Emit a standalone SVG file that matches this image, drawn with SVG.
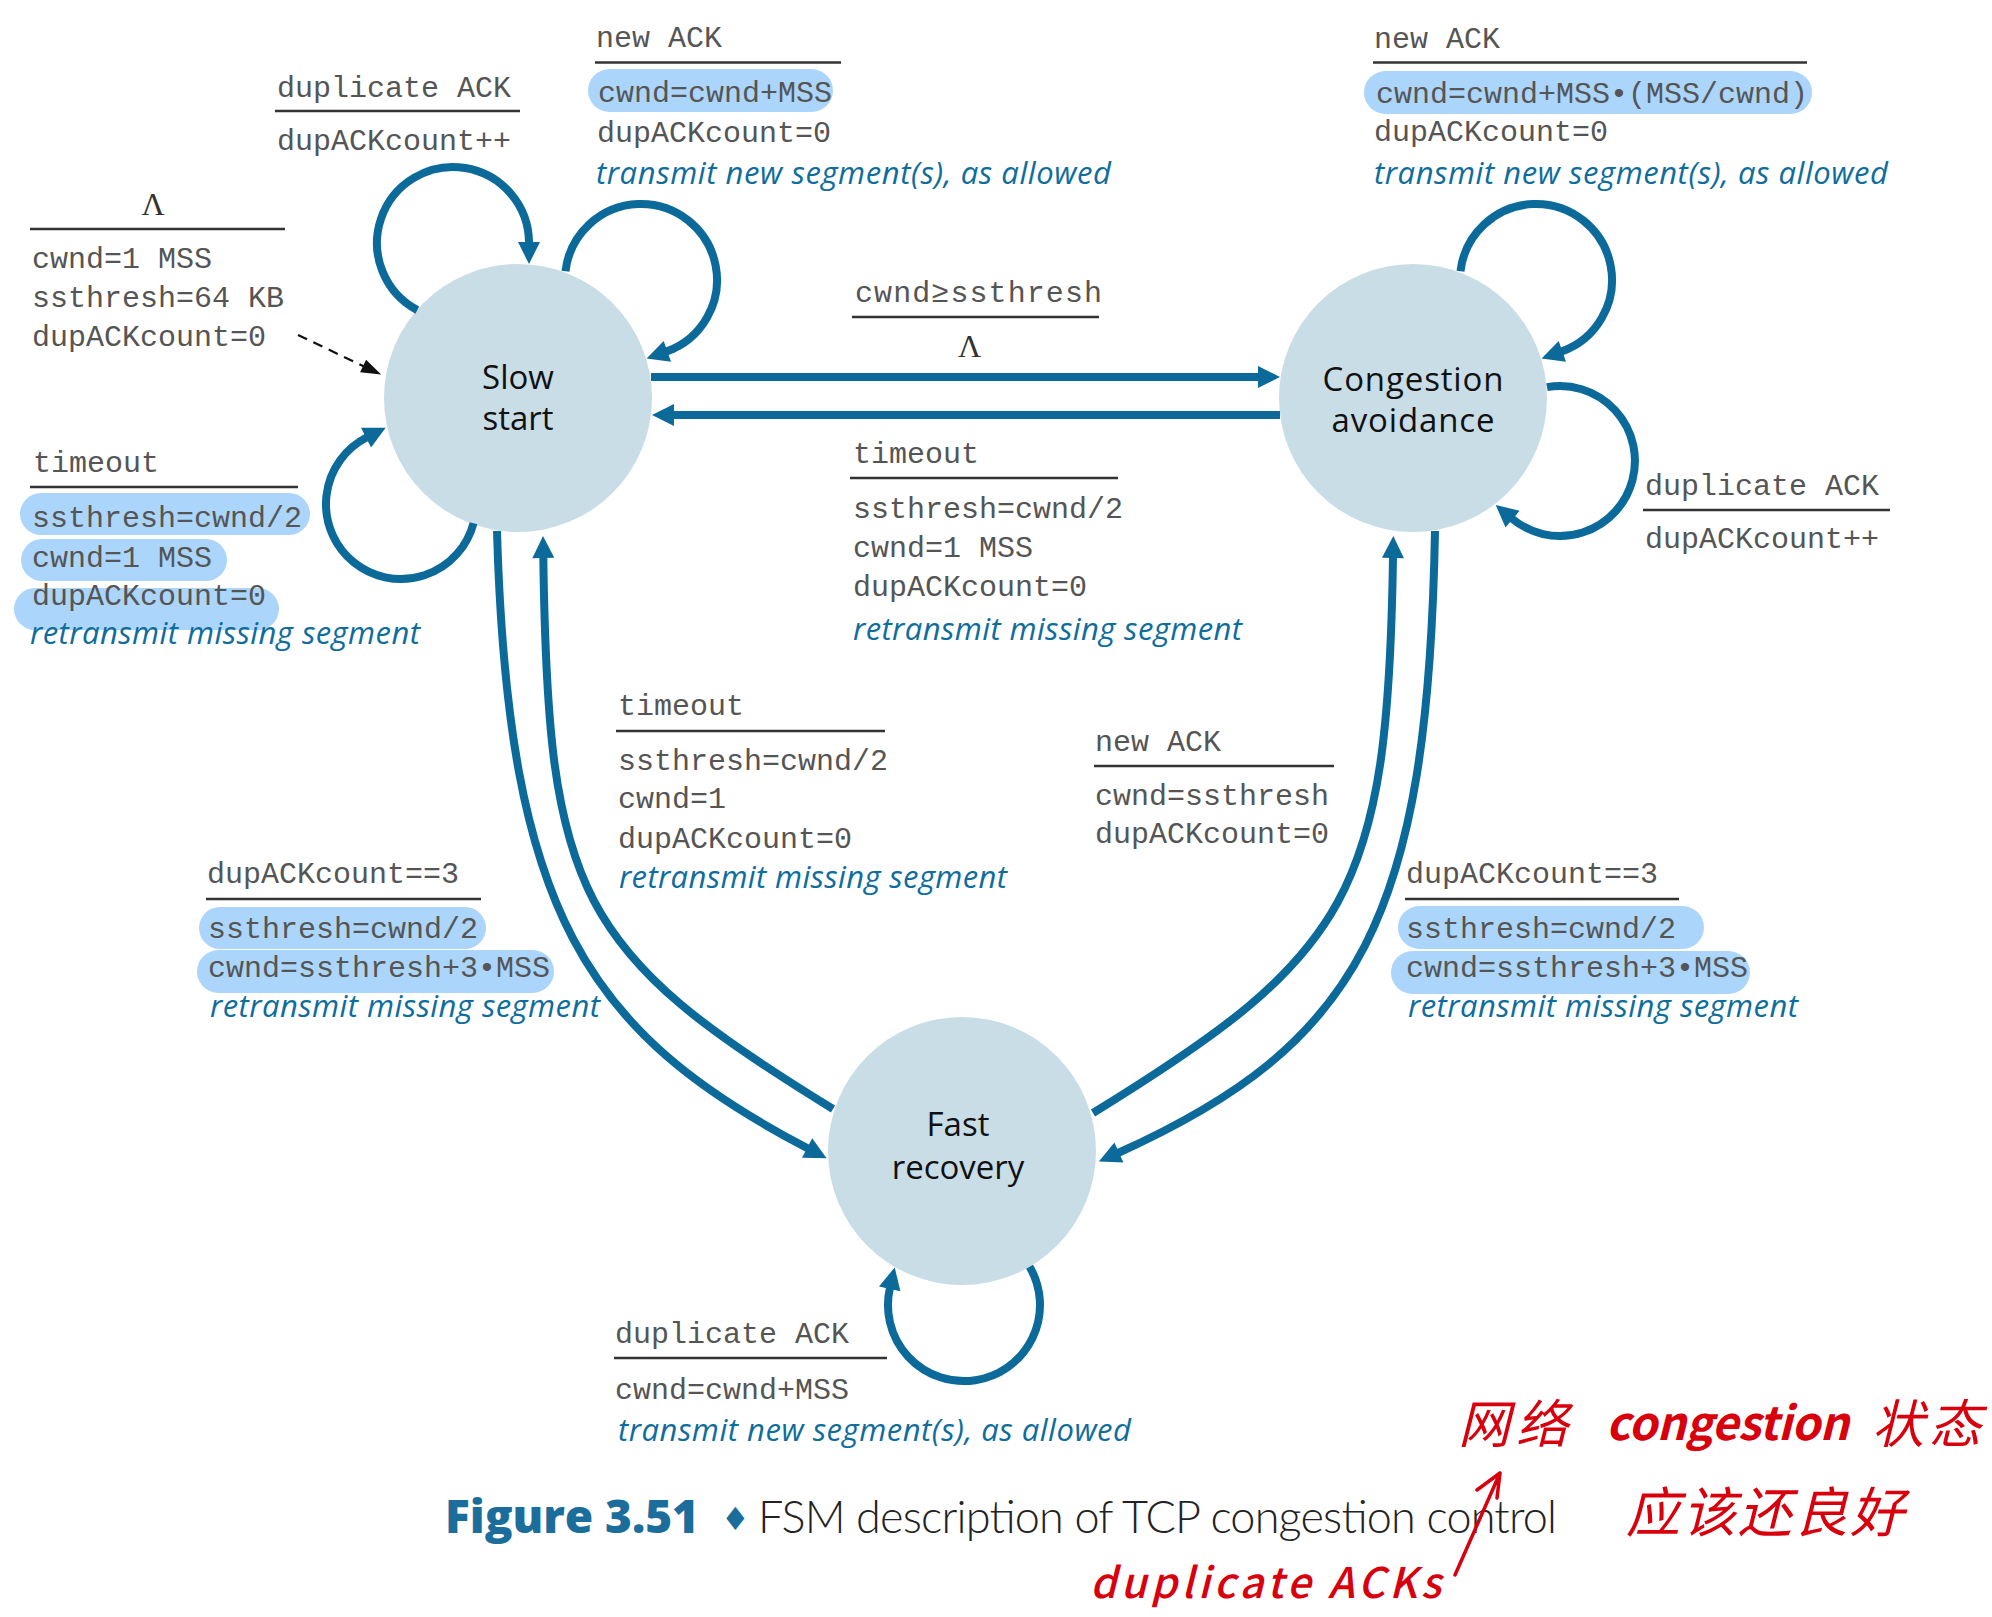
<svg xmlns="http://www.w3.org/2000/svg" width="1992" height="1617" viewBox="0 0 1992 1617">
<defs>
<style>
.mono{font-family:"Liberation Mono","Courier New",monospace;font-size:30px;fill:#555}
.act{font-family:"Open Sans","Noto Sans",sans-serif;font-style:italic;font-size:31px;fill:#0e6d9c}
.state{font-family:"Open Sans","Noto Sans",sans-serif;font-size:33px;fill:#111;text-anchor:middle}
.lam{font-family:"Liberation Serif","Times New Roman",serif;font-size:32px;fill:#333;text-anchor:middle}
.rule{stroke:#333;stroke-width:2.5}
.hl{fill:#abd5fb}
.edge{fill:none;stroke:#0b6a9a;stroke-width:8;marker-end:url(#ah)}
.node{fill:#c9dde7}
.hand{fill:#d9000d;font-family:"Noto Sans CJK SC","Noto Sans",sans-serif}
</style>
<marker id="ah" markerUnits="userSpaceOnUse" markerWidth="22" markerHeight="22" refX="1" refY="11" orient="auto" overflow="visible"><path d="M0,0 L22,11 L0,22 Z" fill="#0b6a9a"/></marker>
<marker id="ahk" markerUnits="userSpaceOnUse" markerWidth="20" markerHeight="14" refX="1" refY="7" orient="auto" overflow="visible"><path d="M0,0 L20,7 L0,14 Z" fill="#111"/></marker>
</defs>
<rect width="1992" height="1617" fill="#fff"/>

<g id="nodes">
<g id="node-slow-start"><circle class="node" cx="518" cy="398" r="134"/><text class="state" x="518" y="389">Slow</text><text class="state" x="518" y="430">start</text></g>
<g id="node-congestion-avoidance"><circle class="node" cx="1413" cy="398" r="134"/><text class="state" x="1413" y="391" textLength="181">Congestion</text><text class="state" x="1413" y="432" textLength="163">avoidance</text></g>
<g id="node-fast-recovery"><circle class="node" cx="962" cy="1151" r="134"/><text class="state" x="958" y="1136">Fast</text><text class="state" x="958" y="1179">recovery</text></g>
</g>

<g id="connectors">
<path d="M298,335 L364,366.4" fill="none" stroke="#111" stroke-width="2.2" stroke-dasharray="10,7" marker-end="url(#ahk)"/>
<path class="edge" d="M417.3,310.1 A76,76 0 1 1 529,243"/>
<path class="edge" d="M565.5,271.3 A76,76 0 1 1 666.4,351.6"/>
<path class="edge" d="M473.5,523.2 A75,75 0 1 1 366.95,437.2"/>
<path class="edge" d="M1460.5,271.3 A76,76 0 1 1 1561.4,351.6"/>
<path class="edge" d="M1547,387.1 A75,75 0 1 1 1511.8,518.5"/>
<path class="edge" d="M1029.6,1266.7 A76,76 0 1 1 889.95,1287.9"/>
<path class="edge" d="M651,377 L1259,377"/>
<path class="edge" d="M1280,415 L673,415"/>
<path class="edge" d="M497,531 C508,911 585,1032 808,1148.5"/>
<path class="edge" d="M833,1109 C577,952 548,895 543.3,557"/>
<path class="edge" d="M1435,531 C1428,918 1360,1044 1118,1153"/>
<path class="edge" d="M1093,1113 C1350,955 1388,895 1393,557"/>
</g>

<g id="label-initial">
<text class="lam" x="153" y="215">Λ</text>
<line class="rule" x1="30" y1="229" x2="285" y2="229"/>
<text class="mono" x="32" y="268">cwnd=1 MSS</text>
<text class="mono" x="32" y="307">ssthresh=64 KB</text>
<text class="mono" x="32" y="346">dupACKcount=0</text>
</g>

<g id="label-ss-dupack">
<text class="mono" x="277" y="97">duplicate ACK</text>
<line class="rule" x1="275" y1="111" x2="520" y2="111"/>
<text class="mono" x="277" y="150">dupACKcount++</text>
</g>

<g id="label-ss-newack">
<text class="mono" x="596" y="47">new ACK</text>
<line class="rule" x1="595" y1="62.5" x2="841" y2="62.5"/>
<rect class="hl" x="588" y="69" width="245" height="43" rx="21.5"/>
<text class="mono" x="598" y="102">cwnd=cwnd+MSS</text>
<text class="mono" x="597" y="142">dupACKcount=0</text>
<text class="act" x="596" y="184" textLength="515">transmit new segment(s), as allowed</text>
</g>

<g id="label-ss-ca">
<text class="mono" x="855" y="302" textLength="247">cwnd≥ssthresh</text>
<line class="rule" x1="852" y1="317" x2="1099" y2="317"/>
<text class="lam" x="969.5" y="357">Λ</text>
</g>

<g id="label-ca-ss">
<text class="mono" x="853" y="463">timeout</text>
<line class="rule" x1="850" y1="478" x2="1118" y2="478"/>
<text class="mono" x="853" y="518">ssthresh=cwnd/2</text>
<text class="mono" x="853" y="557">cwnd=1 MSS</text>
<text class="mono" x="853" y="596">dupACKcount=0</text>
<text class="act" x="853" y="640" textLength="389">retransmit missing segment</text>
</g>

<g id="label-ca-newack">
<text class="mono" x="1374" y="47.5">new ACK</text>
<line class="rule" x1="1373" y1="62.5" x2="1807" y2="62.5"/>
<rect class="hl" x="1364" y="71" width="448" height="43" rx="21.5"/>
<text class="mono" x="1376" y="103">cwnd=cwnd+MSS•(MSS/cwnd)</text>
<text class="mono" x="1374" y="141">dupACKcount=0</text>
<text class="act" x="1374" y="184" textLength="514">transmit new segment(s), as allowed</text>
</g>

<g id="label-ca-dupack">
<text class="mono" x="1645" y="495">duplicate ACK</text>
<line class="rule" x1="1643" y1="510" x2="1890" y2="510"/>
<text class="mono" x="1645" y="548">dupACKcount++</text>
</g>

<g id="label-ss-timeout">
<text class="mono" x="33" y="472">timeout</text>
<line class="rule" x1="30" y1="487" x2="298" y2="487"/>
<rect class="hl" x="20" y="493" width="290" height="42" rx="21"/>
<rect class="hl" x="21" y="539" width="206" height="42" rx="21"/>
<rect class="hl" x="14" y="588" width="265" height="42" rx="21"/>
<text class="mono" x="32" y="527">ssthresh=cwnd/2</text>
<text class="mono" x="32" y="567">cwnd=1 MSS</text>
<text class="mono" x="32" y="605">dupACKcount=0</text>
<text class="act" x="30" y="644" textLength="390">retransmit missing segment</text>
</g>

<g id="label-fr-ss">
<text class="mono" x="618" y="715">timeout</text>
<line class="rule" x1="616" y1="731" x2="885" y2="731"/>
<text class="mono" x="618" y="770">ssthresh=cwnd/2</text>
<text class="mono" x="618" y="808">cwnd=1</text>
<text class="mono" x="618" y="848">dupACKcount=0</text>
<text class="act" x="619" y="888" textLength="388">retransmit missing segment</text>
</g>

<g id="label-fr-ca">
<text class="mono" x="1095" y="751">new ACK</text>
<line class="rule" x1="1094" y1="766" x2="1334" y2="766"/>
<text class="mono" x="1095" y="805">cwnd=ssthresh</text>
<text class="mono" x="1095" y="843">dupACKcount=0</text>
</g>

<g id="label-ss-fr">
<text class="mono" x="207" y="883">dupACKcount==3</text>
<line class="rule" x1="206" y1="899" x2="481" y2="899"/>
<rect class="hl" x="199" y="907" width="287" height="42" rx="21"/>
<rect class="hl" x="197" y="950" width="357" height="43" rx="21.5"/>
<text class="mono" x="208" y="938">ssthresh=cwnd/2</text>
<text class="mono" x="208" y="977">cwnd=ssthresh+3•MSS</text>
<text class="act" x="210" y="1017" textLength="390">retransmit missing segment</text>
</g>

<g id="label-ca-fr">
<text class="mono" x="1406" y="883">dupACKcount==3</text>
<line class="rule" x1="1405" y1="899" x2="1679" y2="899"/>
<rect class="hl" x="1398" y="906" width="306" height="43" rx="21.5"/>
<rect class="hl" x="1391" y="951" width="359" height="43" rx="21.5"/>
<text class="mono" x="1406" y="938">ssthresh=cwnd/2</text>
<text class="mono" x="1406" y="977">cwnd=ssthresh+3•MSS</text>
<text class="act" x="1408" y="1017" textLength="390">retransmit missing segment</text>
</g>

<g id="label-fr-dupack">
<text class="mono" x="615" y="1343">duplicate ACK</text>
<line class="rule" x1="614" y1="1358" x2="887" y2="1358"/>
<text class="mono" x="615" y="1399">cwnd=cwnd+MSS</text>
<text class="act" x="618" y="1441" textLength="513">transmit new segment(s), as allowed</text>
</g>

<g id="caption">
<text x="445" y="1533" font-family="'Open Sans','Noto Sans',sans-serif" font-weight="800" font-size="46" fill="#1b6e9b" textLength="254">Figure 3.51</text>
<text x="721" y="1530" font-family="'DejaVu Sans',sans-serif" font-size="32" fill="#1b6e9b">♦</text>
<text x="758" y="1533" font-family="Lato,'Liberation Sans',sans-serif" font-weight="300" font-size="45" fill="#222" textLength="799">FSM description of TCP congestion control</text>
</g>

<g id="annotation">
<text class="hand" x="1458" y="1443" font-size="52" font-style="italic" textLength="110">网络</text>
<text class="hand" x="1606" y="1440" font-size="46" font-style="italic" font-weight="bold" textLength="243">congestion</text>
<text class="hand" x="1872" y="1443" font-size="52" font-style="italic" textLength="109">状态</text>
<text class="hand" x="1626" y="1532" font-size="54" font-style="italic" textLength="278">应该还良好</text>
<text class="hand" x="1090" y="1598" font-size="42" font-style="italic" font-weight="500" textLength="351">duplicate ACKs</text>
<path d="M1455,1575 L1500,1473 M1477,1490 L1500,1473 L1497,1498" fill="none" stroke="#d9000d" stroke-width="3.5" stroke-linecap="round" stroke-linejoin="round"/>
</g>
</svg>
